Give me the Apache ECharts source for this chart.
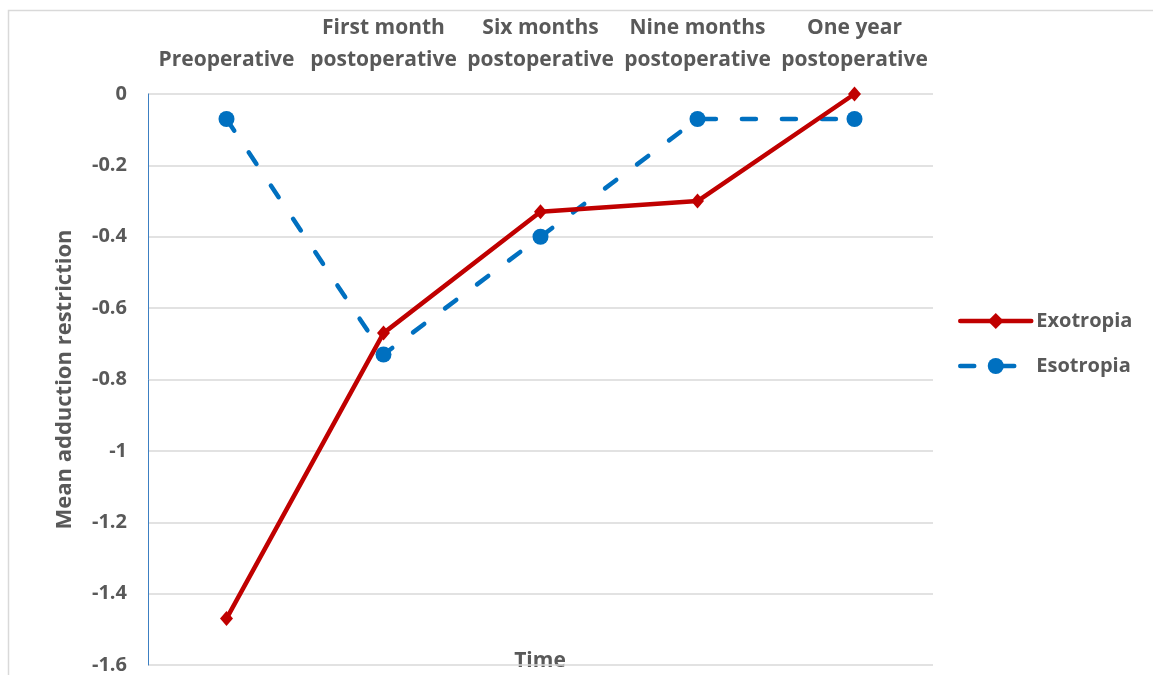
<!DOCTYPE html>
<html>
<head>
<meta charset="utf-8">
<script src="https://cdn.jsdelivr.net/npm/echarts@6/dist/echarts.min.js"></script>
<style>
html,body{margin:0;padding:0;background:#fff;}
#chart{width:1153px;height:675px;}
</style>
</head>
<body>
<div id="chart"></div>
<script>
var categories = ['Preoperative', 'First month\npostoperative', 'Six months\npostoperative', 'Nine months\npostoperative', 'One year\npostoperative'];
var exotropia = [-1.47, -0.67, -0.33, -0.30, 0];
var esotropia = [-0.07, -0.73, -0.40, -0.07, -0.07];
var yTicks = { min: -1.6, max: 0, interval: 0.2 };

var FONT = '"Open Sans", Lato, sans-serif';
var TXT = '#595959';

var chart = echarts.init(document.getElementById('chart'));
chart.setOption({
  animation: false,
  backgroundColor: '#fff',
  grid: { left: 148, right: 220, top: 94, bottom: 10, containLabel: false },
  graphic: [
    { type: 'rect', left: 6, top: 8, shape: { width: 1300, height: 800 }, style: { fill: 'none', stroke: '#D9D9D9', lineWidth: 1.5 }, silent: true, z: -1 },
    { type: 'text', x: 540, y: 661, style: { text: 'Time', font: 'bold 21px ' + FONT, fill: TXT, align: 'center', verticalAlign: 'middle' } }
  ],
  legend: {
    orient: 'vertical',
    left: 958,
    top: 311,
    padding: 0,
    itemWidth: 71,
    itemHeight: 20,
    itemGap: 25,
    lineStyle: { width: 4.5, cap: 'round' },
    textStyle: { fontFamily: FONT, fontSize: 20, fontWeight: 'bold', color: TXT },
    data: ['Exotropia', 'Esotropia']
  },
  xAxis: {
    type: 'category',
    position: 'top',
    data: categories,
    boundaryGap: true,
    axisLine: { show: false },
    axisTick: { show: false },
    splitLine: { show: false },
    axisLabel: { fontFamily: FONT, fontSize: 21, fontWeight: 'bold', color: TXT, lineHeight: 32, margin: 18, interval: 0 }
  },
  yAxis: {
    type: 'value',
    min: yTicks.min,
    max: yTicks.max,
    interval: yTicks.interval,
    name: 'Mean adduction restriction',
    nameLocation: 'middle',
    nameGap: 72,
    nameTextStyle: { fontFamily: FONT, fontSize: 22, fontWeight: 'bold', color: TXT },
    axisLine: { show: true, lineStyle: { color: '#3C7FC2', width: 1 } },
    axisTick: { show: false },
    splitLine: { lineStyle: { color: '#D9D9D9', width: 1.5 } },
    axisLabel: {
      fontFamily: FONT, fontSize: 20, fontWeight: 'bold', color: TXT, margin: 21,
      formatter: function (v) { return String(Math.round(v * 10) / 10); }
    }
  },
  series: [
    {
      name: 'Exotropia',
      type: 'line',
      data: exotropia,
      symbol: 'diamond',
      symbolSize: [13, 15],
      itemStyle: { color: '#C00000' },
      lineStyle: { color: '#C00000', width: 4.5 },
      z: 3
    },
    {
      name: 'Esotropia',
      type: 'line',
      data: esotropia,
      symbol: 'circle',
      symbolSize: 16,
      itemStyle: { color: '#0070C0' },
      lineStyle: { color: '#0070C0', width: 4.5, type: [14, 26], cap: 'round' },
      z: 2
    }
  ]
});
</script>
</body>
</html>
